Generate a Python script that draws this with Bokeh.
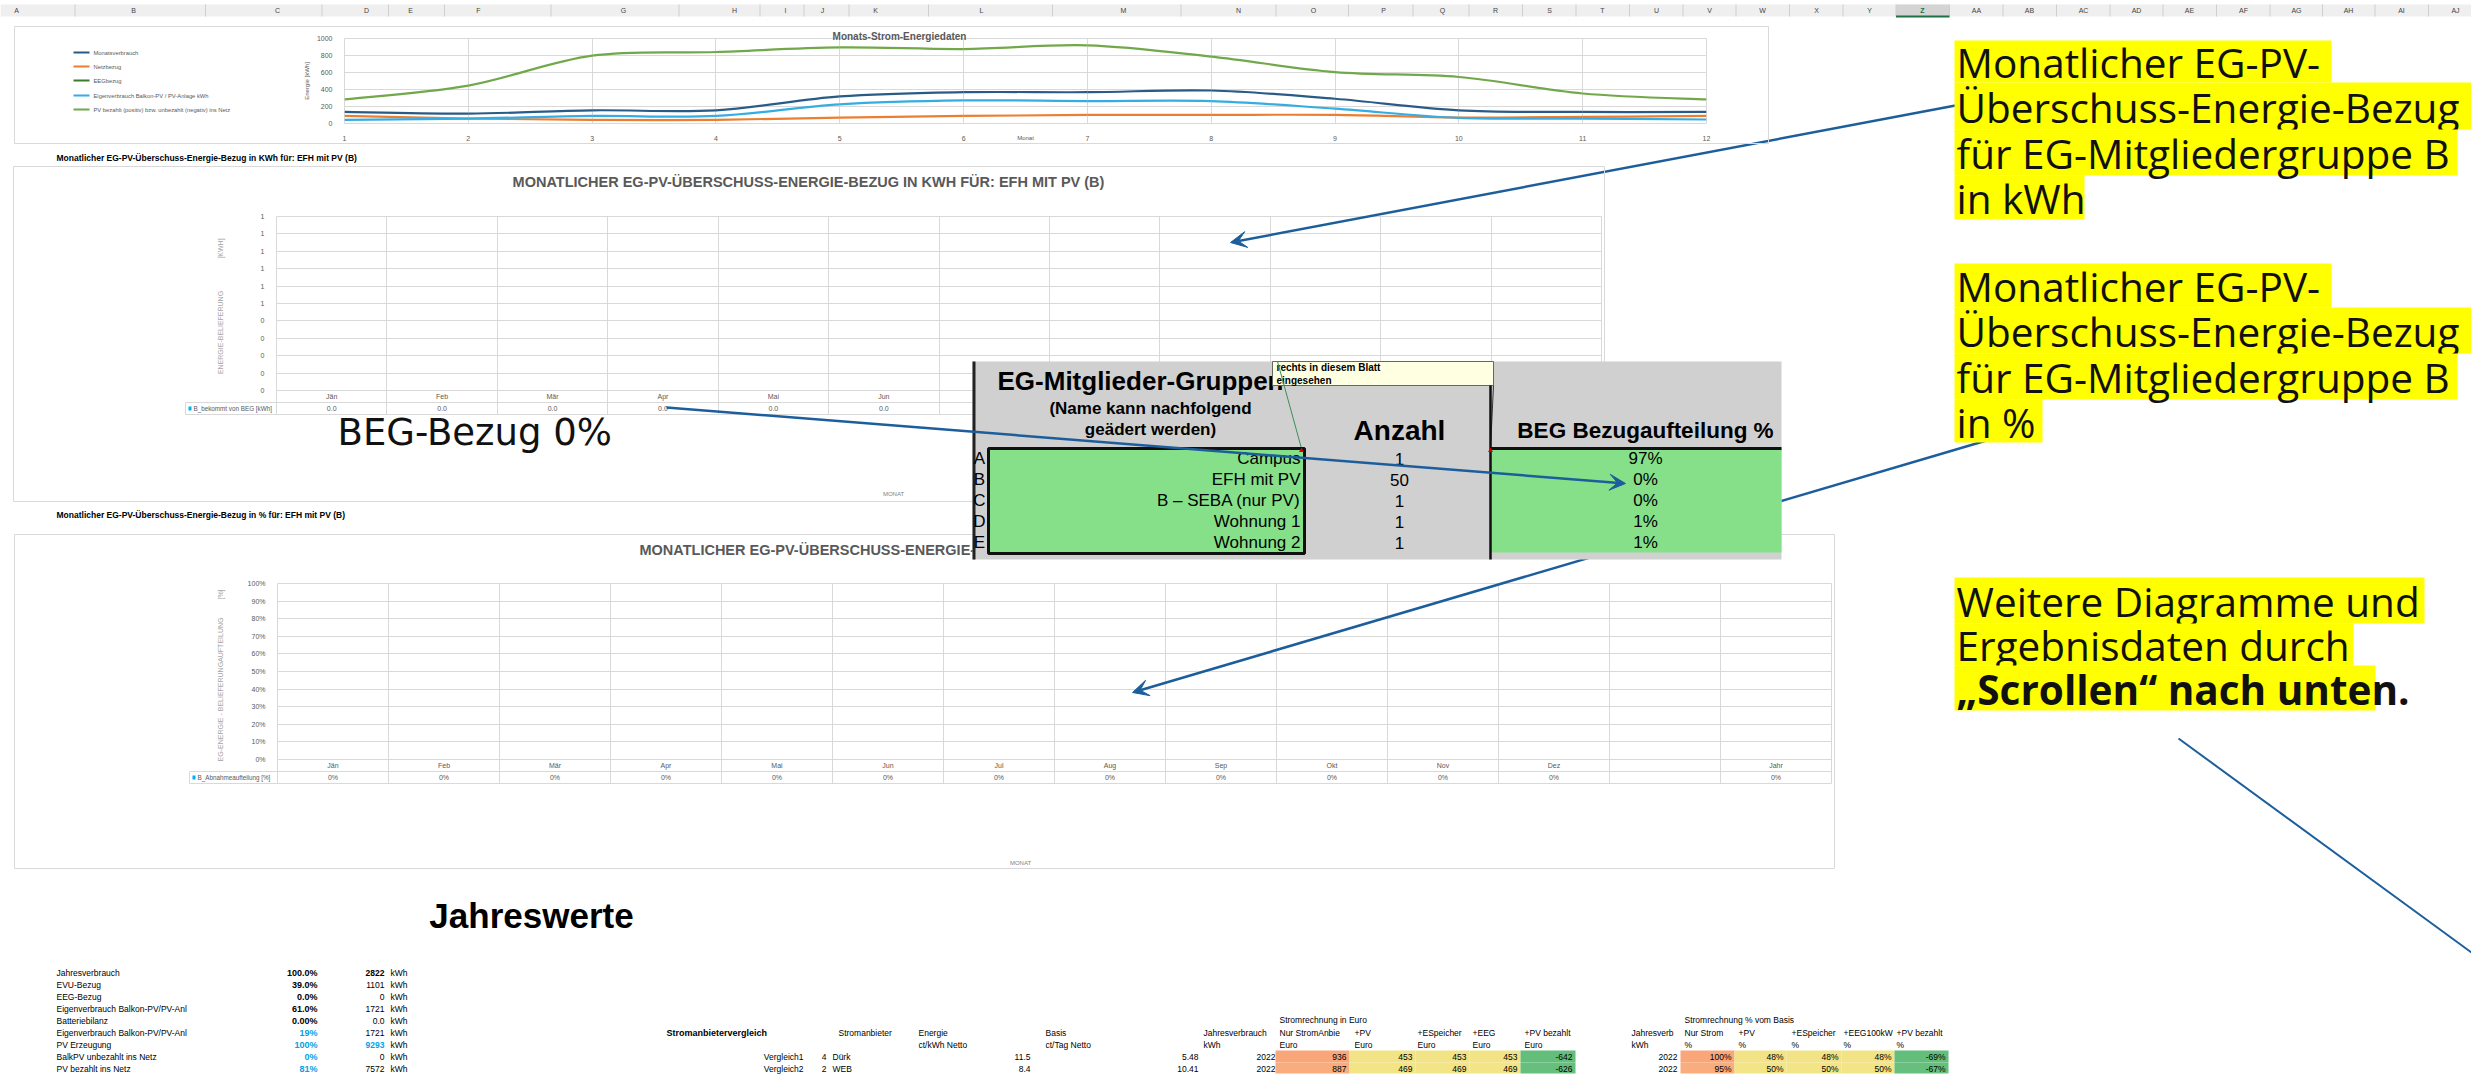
import math
from bokeh.plotting import figure
from bokeh.models import (Range1d, FixedTicker, Arrow, VeeHead, Span,
                          CustomJSTickFormatter, NumeralTickFormatter, ColumnDataSource)
from bokeh.layouts import column
from bokeh.core.properties import value
from bokeh.embed import file_html
from bokeh.resources import INLINE

# ------------------------------------------------------------------ data
# chart 1: Monats-Strom-Energiedaten (kWh)
monat = [1, 2, 3, 4, 5, 6, 7, 8, 9, 10, 11, 12]
monatsverbrauch = [136, 116, 155, 155, 318, 368, 368, 388, 291, 155, 136, 136]
netzbezug = [89, 58, 43, 43, 70, 89, 101, 101, 101, 70, 78, 89]
eeg_bezug = []  # no visible line in the reference
eigenverbrauch = [43, 58, 89, 89, 225, 271, 264, 264, 174, 66, 58, 47]
pv_bezahlt = [283, 446, 798, 841, 895, 876, 919, 787, 605, 547, 353, 283]
serien_namen = ["Monatsverbrauch", "Netzbezug", "EEGbezug",
                "Eigenverbrauch Balkon-PV / PV-Anlage kWh",
                "PV bezahlt (positiv) bzw. unbezahlt (negativ) ins Netz"]
y1_ticks = [0, 200, 400, 600, 800, 1000]

# chart 2: EG-PV-Überschuss-Energie-Bezug in kWh
monate = ["Jän", "Feb", "Mär", "Apr", "Mai", "Jun", "Jul", "Aug", "Sep", "Okt", "Nov", "Dez"]
beg_kwh = [0.0, 0.0, 0.0, 0.0, 0.0, 0.0, 0.0, 0.0, 0.0, 0.0, 0.0, 0.0]
y2_ticks = [0.0, 0.1, 0.2, 0.3, 0.4, 0.5, 0.6, 0.7, 0.8, 0.9, 1.0]

# chart 3: EG-PV-Überschuss-Energie-Bezug in %
monate3 = ["Jän", "Feb", "Mär", "Apr", "Mai", "Jun", "Jul", "Aug", "Sep", "Okt", "Nov", "Dez", "", "Jahr"]
beg_pct = [0, 0, 0, 0, 0, 0, 0, 0, 0, 0, 0, 0, None, 0]
y3_ticks = [0.0, 0.1, 0.2, 0.3, 0.4, 0.5, 0.6, 0.7, 0.8, 0.9, 1.0]

# pasted table: EG-Mitglieder-Gruppen
gruppen_buchst = ["A", "B", "C", "D", "E"]
gruppen = ["Campus", "EFH mit PV", "B – SEBA (nur PV)", "Wohnung 1", "Wohnung 2"]
anzahl = [1, 50, 1, 1, 1]
beg_aufteilung = [97, 0, 0, 1, 1]

# Jahreswerte
jw_labels = ["Jahresverbrauch", "EVU-Bezug", "EEG-Bezug", "Eigenverbrauch Balkon-PV/PV-Anl",
             "Batteriebilanz", "Eigenverbrauch Balkon-PV/PV-Anl", "PV Erzeugung",
             "BalkPV unbezahlt ins Netz", "PV bezahlt ins Netz"]
jw_pct = ["100.0%", "39.0%", "0.0%", "61.0%", "0.00%", "19%", "100%", "0%", "81%"]
jw_kwh = ["2822", "1101", "0", "1721", "0.0", "1721", "9293", "0", "7572"]

vergleich = ["Vergleich1", "Vergleich2"]
anbieter_nr = [4, 2]
anbieter = ["Dürk", "WEB"]
energie_ct = [11.5, 8.4]
basis_ct = [5.48, 10.41]
jahresverbrauch_kwh = [2022, 2022]
euro_nur_strom = [936, 887]
euro_pv = [453, 469]
euro_speicher = [453, 469]
euro_eeg = [453, 469]
euro_pv_bezahlt = [-642, -626]
pct_nur_strom = [100, 95]
pct_pv = [48, 50]
pct_speicher = [48, 50]
pct_eeg = [48, 50]
pct_pv_bezahlt = [-69, -67]

hdr_cols = ["A", "B", "C", "D", "E", "F", "G", "H", "I", "J", "K", "L", "M", "N", "O", "P", "Q", "R",
            "S", "T", "U", "V", "W", "X", "Y", "Z", "AA", "AB", "AC", "AD", "AE", "AF", "AG", "AH", "AI", "AJ"]

# ------------------------------------------------------------------ layout / style constants
hdr_x = [16, 133, 277, 366, 410, 478, 623, 734, 785, 822, 875, 981, 1123, 1238, 1313, 1383, 1442, 1495,
         1549, 1602, 1656, 1709, 1762, 1816, 1869, 1922, 1976, 2029, 2083, 2136, 2189, 2243, 2296, 2348, 2401, 2455]
PAGE_W, PAGE_H = 2471, 1081
GRID = "#d9d9d9"
AX = "#595959"
SANS = "Liberation Sans"
COLS1 = ["#2a5b87", "#ed7d31", "#3e7b27", "#34ade3", "#71a84a"]
ARROW_C = "#1c5e9c"
YEL = "#ffff00"
GREEN_T = "#85e089"


def place(x, y):
    return {"position": "absolute", "left": f"{x}px", "top": f"{y}px"}


def smooth(xs, ys):
    """Catmull-Rom -> cubic bezier control points for Excel-like smoothed lines."""
    n = len(xs)
    d = dict(x0=[], y0=[], x1=[], y1=[], cx0=[], cy0=[], cx1=[], cy1=[])
    for i in range(n - 1):
        xm, ym = (xs[i - 1], ys[i - 1]) if i > 0 else (xs[i], ys[i])
        xp, yp = (xs[i + 2], ys[i + 2]) if i + 2 < n else (xs[i + 1], ys[i + 1])
        d["x0"].append(xs[i]); d["y0"].append(ys[i])
        d["x1"].append(xs[i + 1]); d["y1"].append(ys[i + 1])
        d["cx0"].append(xs[i] + (xs[i + 1] - xm) / 6.0)
        d["cy0"].append(ys[i] + (ys[i + 1] - ym) / 6.0)
        d["cx1"].append(xs[i + 1] - (xp - xs[i]) / 6.0)
        d["cy1"].append(ys[i + 1] - (yp - ys[i]) / 6.0)
    return ColumnDataSource(d)


def style_axis(ax, size="7px"):
    ax.axis_line_color = None
    ax.major_tick_line_color = None
    ax.minor_tick_line_color = None
    ax.major_label_text_font_size = size
    ax.major_label_text_color = AX
    ax.major_label_text_font = SANS


# ------------------------------------------------------------------ chart 1
p1 = figure(width=1754, height=117, x_range=Range1d(1, 12), y_range=Range1d(0, 1000),
            output_backend="svg", toolbar_location=None, title=None, frame_align=False,
            min_border_left=330, min_border_right=62, min_border_top=12, min_border_bottom=19,
            outline_line_color=GRID, styles=place(14, 26))
p1.xaxis.ticker = FixedTicker(ticks=monat)
p1.yaxis.ticker = FixedTicker(ticks=y1_ticks)
style_axis(p1.xaxis[0]); style_axis(p1.yaxis[0])
p1.xaxis.major_label_standoff = 6
p1.yaxis.major_label_standoff = 6
p1.yaxis.axis_label = "Energie [kWh]"
p1.yaxis.axis_label_text_font_size = "6px"
p1.yaxis.axis_label_text_font_style = "normal"
p1.yaxis.axis_label_text_color = AX
p1.yaxis.axis_label_standoff = 4
p1.grid.grid_line_color = GRID
p1.xgrid.ticker = FixedTicker(ticks=monat)

series1 = [monatsverbrauch, netzbezug, eeg_bezug, eigenverbrauch, pv_bezahlt]
for ys, col in zip(series1, COLS1):
    p1.bezier(x0="x0", y0="y0", x1="x1", y1="y1", cx0="cx0", cy0="cy0", cx1="cx1", cy1="cy1",
              source=smooth(monat[:len(ys)], ys), line_color=col, line_width=2.2)


# ------------------------------------------------------------------ charts 2 and 3 (column charts with data table)
def table_chart(cats, vals, labels, yticks, formatter, box, frame, ph):
    bx0, by0, bx1, by1 = box
    fx0, fy0, fx1, fy1 = frame
    n = len(cats)
    p = figure(width=bx1 - bx0, height=by1 - by0, x_range=Range1d(0, n),
               y_range=Range1d(-24.0 / ph, 1.0), x_axis_location=None,
               output_backend="svg", toolbar_location=None, title=None, frame_align=False,
               min_border_left=fx0 - bx0, min_border_right=bx1 - fx1,
               min_border_top=fy0 - by0, min_border_bottom=by1 - fy1,
               outline_line_color=GRID, styles=place(bx0, by0))
    p.yaxis.ticker = FixedTicker(ticks=yticks)
    p.yaxis.formatter = formatter
    style_axis(p.yaxis[0])
    p.yaxis.major_label_standoff = 6
    p.grid.grid_line_color = GRID
    p.xgrid.ticker = FixedTicker(ticks=list(range(n + 1)))
    p.add_layout(Span(location=-12.0 / ph, dimension="width", line_color=GRID, line_width=1))
    xc = [i + 0.5 for i in range(n)]
    tops = [v if v is not None else 0 for v in vals]
    p.vbar(x=xc, top=tops, width=0.6, fill_color="#00b0f0", line_color=None)
    src = ColumnDataSource(dict(x=xc, cat=cats, val=labels))
    p.text(x="x", y=0, text="cat", source=src, y_offset=6, text_align="center", text_baseline="middle",
           text_font_size="7px", text_color=AX, text_font=value(SANS))
    p.text(x="x", y=0, text="val", source=src, y_offset=18, text_align="center", text_baseline="middle",
           text_font_size="7px", text_color=AX, text_font=value(SANS))
    return p


p2 = table_chart(monate, beg_kwh, [f"{v:.1f}" for v in beg_kwh], y2_ticks,
                 CustomJSTickFormatter(code="return Math.round(tick).toString();"),
                 (13, 166, 1604, 501), (276, 216, 1601, 414), 174.0)
p3 = table_chart(monate3, beg_pct, ["" if v is None else f"{v}%" for v in beg_pct], y3_ticks,
                 NumeralTickFormatter(format="0%"),
                 (14, 534, 1834, 868), (277, 583, 1831, 783), 176.0)

# ------------------------------------------------------------------ overlay canvas (page coordinates)
ov = figure(width=PAGE_W, height=PAGE_H, x_range=Range1d(0, PAGE_W), y_range=Range1d(PAGE_H, 0),
            x_axis_location=None, y_axis_location=None, output_backend="svg", toolbar_location=None,
            title=None, frame_align=False,
            min_border=0, background_fill_alpha=0, border_fill_alpha=0, outline_line_color=None,
            styles=place(0, 0))
ov.grid.visible = False


def T(x, y, s, size, color="#000000", bold=False, align="left", base="middle", font=SANS, angle=0.0):
    xs = x if isinstance(x, list) else [x]
    ys = y if isinstance(y, list) else [y] * len(xs)
    ss = s if isinstance(s, list) else [s]
    ov.text(x=xs, y=ys, text=ss, text_font=value(font), text_font_size=f"{size}px", text_color=color,
            text_font_style="bold" if bold else "normal", text_align=align, text_baseline=base, angle=angle)


def box(l, t, r, b, fill=None, line=None, lw=1.0):
    ov.quad(left=[l], right=[r], top=[t], bottom=[b], fill_color=fill, fill_alpha=1 if fill else 0,
            line_color=line, line_width=lw)


def seg(x0, y0, x1, y1, col, lw=1.0):
    ov.segment(x0=[x0], y0=[y0], x1=[x1], y1=[y1], line_color=col, line_width=lw)


# Excel column header
box(0, 4, PAGE_W, 16, fill="#efefef")
seps = [(a + b) / 2 for a, b in zip(hdr_x[:-1], hdr_x[1:])]
box(seps[24], 4, seps[25], 16, fill="#d4d4d4")
for sx in seps:
    seg(sx, 4, sx, 16, "#cfcfcf")
seg(seps[24], 16, seps[25], 16, "#1e7145", 2)
for c, hx in zip(hdr_cols, hdr_x):
    T(hx, 10, c, 7, color="#1e7145" if c == "Z" else "#444444", align="center", bold=(c == "Z"))

# chart boxes and titles
box(14, 26, 1768, 143, line=GRID)
box(13, 166, 1604, 501, line=GRID)
box(14, 534, 1834, 868, line=GRID)
T(899, 36, "Monats-Strom-Energiedaten", 10, color=AX, bold=True, align="center")
T(1025, 137, "Monat", 6, color=AX, align="center")
# legend of chart 1
leg_y = [52, 66, 80, 95, 109]
for yy, col in zip(leg_y, COLS1):
    seg(73, yy, 89, yy, col, 2.2)
T([93] * 5, leg_y, serien_namen, 5.8, color=AX)

T(56, 157, "Monatlicher EG-PV-Überschuss-Energie-Bezug in KWh für: EFH mit PV (B)", 8.5, bold=True)
T(56, 514, "Monatlicher EG-PV-Überschuss-Energie-Bezug in % für: EFH mit PV (B)", 8.5, bold=True)
T(808, 181, "MONATLICHER EG-PV-ÜBERSCHUSS-ENERGIE-BEZUG IN KWH FÜR: EFH MIT PV (B)", 14.5, color=AX,
  bold=True, align="center")
T(924, 549, "MONATLICHER EG-PV-ÜBERSCHUSS-ENERGIE-BEZUG IN % FÜR: EFH MIT PV (B)", 14.5, color=AX,
  bold=True, align="center")
T(220, 332, "ENERGIE-BELIEFERUNG", 7, color="#a6a6a6", align="center", angle=math.pi / 2)
T(220, 248, "[KWH]", 7, color="#a6a6a6", align="center", angle=math.pi / 2)
T(220, 689, "EG-ENERGIE - BELIEFERUNGAUFTEILUNG", 7, color="#a6a6a6", align="center", angle=math.pi / 2)
T(220, 594, "[%]", 7, color="#a6a6a6", align="center", angle=math.pi / 2)
T(893, 493, "MONAT", 6, color="#7f7f7f", align="center")
T(1020, 862, "MONAT", 6, color="#7f7f7f", align="center")
# data-table legend cells
box(185, 402, 276, 414, line=GRID)
box(188, 406, 191, 410, fill="#00b0f0")
T(193, 408, "B_bekommt von BEG [kWh]", 6.3, color=AX)
box(189, 771, 277, 783, line=GRID)
box(192, 775, 195, 779, fill="#00b0f0")
T(197, 777, "B_Abnahmeaufteilung [%]", 6.3, color=AX)

# big label
T(337, 432, "BEG-Bezug 0%", 37, color="#111111", base="alphabetic", font="DejaVu Sans")

# arrows passing under the pasted table
ov.add_layout(Arrow(end=VeeHead(size=16, fill_color=ARROW_C, line_color=ARROW_C), x_start=1955, y_start=105,
                    x_end=1230, y_end=242, line_color=ARROW_C, line_width=2.5, level="underlay"))
ov.add_layout(Arrow(end=VeeHead(size=16, fill_color=ARROW_C, line_color=ARROW_C), x_start=1986, y_start=440,
                    x_end=1132, y_end=692, line_color=ARROW_C, line_width=2.5, level="underlay"))

# pasted table
box(972, 361, 1781, 559, fill="#d0d0d0")
seg(973.5, 361, 973.5, 559, "#222222", 3)
T(997, 380, "EG-Mitglieder-Gruppen", 26, bold=True)
box(1272, 361, 1493, 385, fill="#ffffe1", line="#666666")
T(1276, 367, "rechts in diesem Blatt", 10, bold=True)
T(1276, 380, "eingesehen", 10, bold=True)
T(1150, 408, "(Name kann nachfolgend", 17, bold=True, align="center")
T(1150, 429, "geädert werden)", 17, bold=True, align="center")
T(1399, 430, "Anzahl", 28, bold=True, align="center")
T(1645, 430, "BEG Bezugaufteilung %", 22.5, bold=True, align="center")
seg(1277, 361, 1301, 448, "#3a8f5a", 1)
seg(1493, 385, 1490, 448, "#333333", 1)
box(1490, 448, 1781, 552, fill=GREEN_T)
seg(1490, 448, 1781, 448, "#111111", 3)
seg(1490, 385, 1490, 559, "#111111", 2.5)
box(988, 448, 1304, 553, fill=GREEN_T, line="#111111", lw=3)
row_y = [458, 479, 500, 521, 542]
T([979] * 5, row_y, gruppen_buchst, 17, align="center")
T([1300] * 5, row_y, gruppen, 17, align="right")
T([1399] * 5, row_y, [str(a) for a in anzahl], 17, align="center")
T([1645] * 5, row_y, [f"{v}%" for v in beg_aufteilung], 17, align="center")
ov.scatter(x=[1301, 1490], y=[450, 450], marker="triangle", size=5, fill_color="#dd0000", line_color=None)

# arrow on top of the table
ov.add_layout(Arrow(end=VeeHead(size=16, fill_color=ARROW_C, line_color=ARROW_C), x_start=666, y_start=407,
                    x_end=1625, y_end=483, line_color=ARROW_C, line_width=2.5))
seg(2178, 738, 2471, 952, ARROW_C, 2)

# yellow annotations
ANN = "Open Sans"
blocks = [
    ([(2331, 40, 82), (2471, 82, 129), (2457, 129, 175), (2084, 175, 219)],
     ["Monatlicher  EG-PV-", "Überschuss-Energie-Bezug", "für EG-Mitgliedergruppe B", "in kWh"], [False] * 4),
    ([(2331, 263, 307), (2471, 307, 353), (2457, 353, 399), (2042, 399, 442)],
     ["Monatlicher  EG-PV-", "Überschuss-Energie-Bezug", "für EG-Mitgliedergruppe B", "in %"], [False] * 4),
    ([(2424, 577, 623), (2353, 623, 665), (2375, 665, 710)],
     ["Weitere Diagramme und ", "Ergebnisdaten durch", "„Scrollen“ nach unten."], [False, False, True]),
]
for rects, lines, bolds in blocks:
    for (r, t, b), s, bo in zip(rects, lines, bolds):
        box(1954, t, r, b, fill=YEL)
        T(1956, (t + b) / 2 + 1, s, 40.5, color="#111111", bold=bo, font=ANN)

# Jahreswerte
T(531, 915, "Jahreswerte", 35, bold=True, align="center")
jw_y = [972, 984, 996, 1008, 1020, 1032, 1044, 1056, 1068]
T([56] * 9, jw_y, jw_labels, 8.5)
for i, (pc, kw) in enumerate(zip(jw_pct, jw_kwh)):
    blue = i >= 5
    T(317, jw_y[i], pc, 9, color="#00a2e8" if blue else "#000000", bold=True, align="right")
    T(384, jw_y[i], kw, 8.5, color="#00a2e8" if i == 6 else "#000000", bold=(i in (0, 6)), align="right")
    T(390, jw_y[i], "kWh", 8.5)

T(666, 1032, "Stromanbietervergleich", 9, bold=True)
T(838, 1032, "Stromanbieter", 8.5)
T(918, 1032, "Energie", 8.5)
T(918, 1044, "ct/kWh Netto", 8.5)
T(1045, 1032, "Basis", 8.5)
T(1045, 1044, "ct/Tag Netto", 8.5)
vy = [1056, 1068]
T([803] * 2, vy, vergleich, 8.5, align="right")
T([826] * 2, vy, [str(n) for n in anbieter_nr], 8.5, align="right")
T([832] * 2, vy, anbieter, 8.5)
T([1030] * 2, vy, [f"{v:.1f}" for v in energie_ct], 8.5, align="right")
T([1198] * 2, vy, [f"{v:.2f}" for v in basis_ct], 8.5, align="right")
T([1275] * 2, vy, [str(v) for v in jahresverbrauch_kwh], 8.5, align="right")

T(1279, 1019, "Stromrechnung in Euro", 8.5)
for hx, h in zip([1203, 1279, 1354, 1417, 1472, 1524],
                 ["Jahresverbrauch", "Nur StromAnbie", "+PV", "+ESpeicher", "+EEG", "+PV bezahlt"]):
    T(hx, 1032, h, 8.5)
for hx, h in zip([1203, 1279, 1354, 1417, 1472, 1524], ["kWh", "Euro", "Euro", "Euro", "Euro", "Euro"]):
    T(hx, 1044, h, 8.5)
euro_edges = [1275, 1349, 1415, 1469, 1520, 1575]
euro_cols = [euro_nur_strom, euro_pv, euro_speicher, euro_eeg, euro_pv_bezahlt]
cell_fill = [["#f9a67b", "#f9ac7d"], ["#f2e486", "#f3e486"], ["#f2e486", "#f3e486"],
             ["#f2e486", "#f3e486"], ["#63be7b", "#66bf7c"]]
row_tb = [(1050, 1062), (1062, 1073)]
for c, vals in enumerate(euro_cols):
    for r, v in enumerate(vals):
        box(euro_edges[c], row_tb[r][0], euro_edges[c + 1], row_tb[r][1], fill=cell_fill[c][r])
        T(euro_edges[c + 1] - 3, vy[r], str(v), 8.5, align="right")

T(1684, 1019, "Stromrechnung % vom Basis", 8.5)
for hx, h in zip([1631, 1684, 1738, 1791, 1843, 1896],
                 ["Jahresverb", "Nur Strom", "+PV", "+ESpeicher", "+EEG100kW", "+PV bezahlt"]):
    T(hx, 1032, h, 8.5)
for hx, h in zip([1631, 1684, 1738, 1791, 1843, 1896], ["kWh", "%", "%", "%", "%", "%"]):
    T(hx, 1044, h, 8.5)
T([1677] * 2, vy, [str(v) for v in jahresverbrauch_kwh], 8.5, align="right")
pct_edges = [1680, 1734, 1786, 1841, 1894, 1948]
pct_cols = [pct_nur_strom, pct_pv, pct_speicher, pct_eeg, pct_pv_bezahlt]
for c, vals in enumerate(pct_cols):
    for r, v in enumerate(vals):
        box(pct_edges[c], row_tb[r][0], pct_edges[c + 1], row_tb[r][1], fill=cell_fill[c][r])
        T(pct_edges[c + 1] - 3, vy[r], f"{v}%", 8.5, align="right")

# ------------------------------------------------------------------ page
root = column(p1, p2, p3, ov, width=PAGE_W, height=PAGE_H, sizing_mode="fixed",
              styles={"position": "relative"})
open("out.html", "w").write(file_html(root, INLINE))
